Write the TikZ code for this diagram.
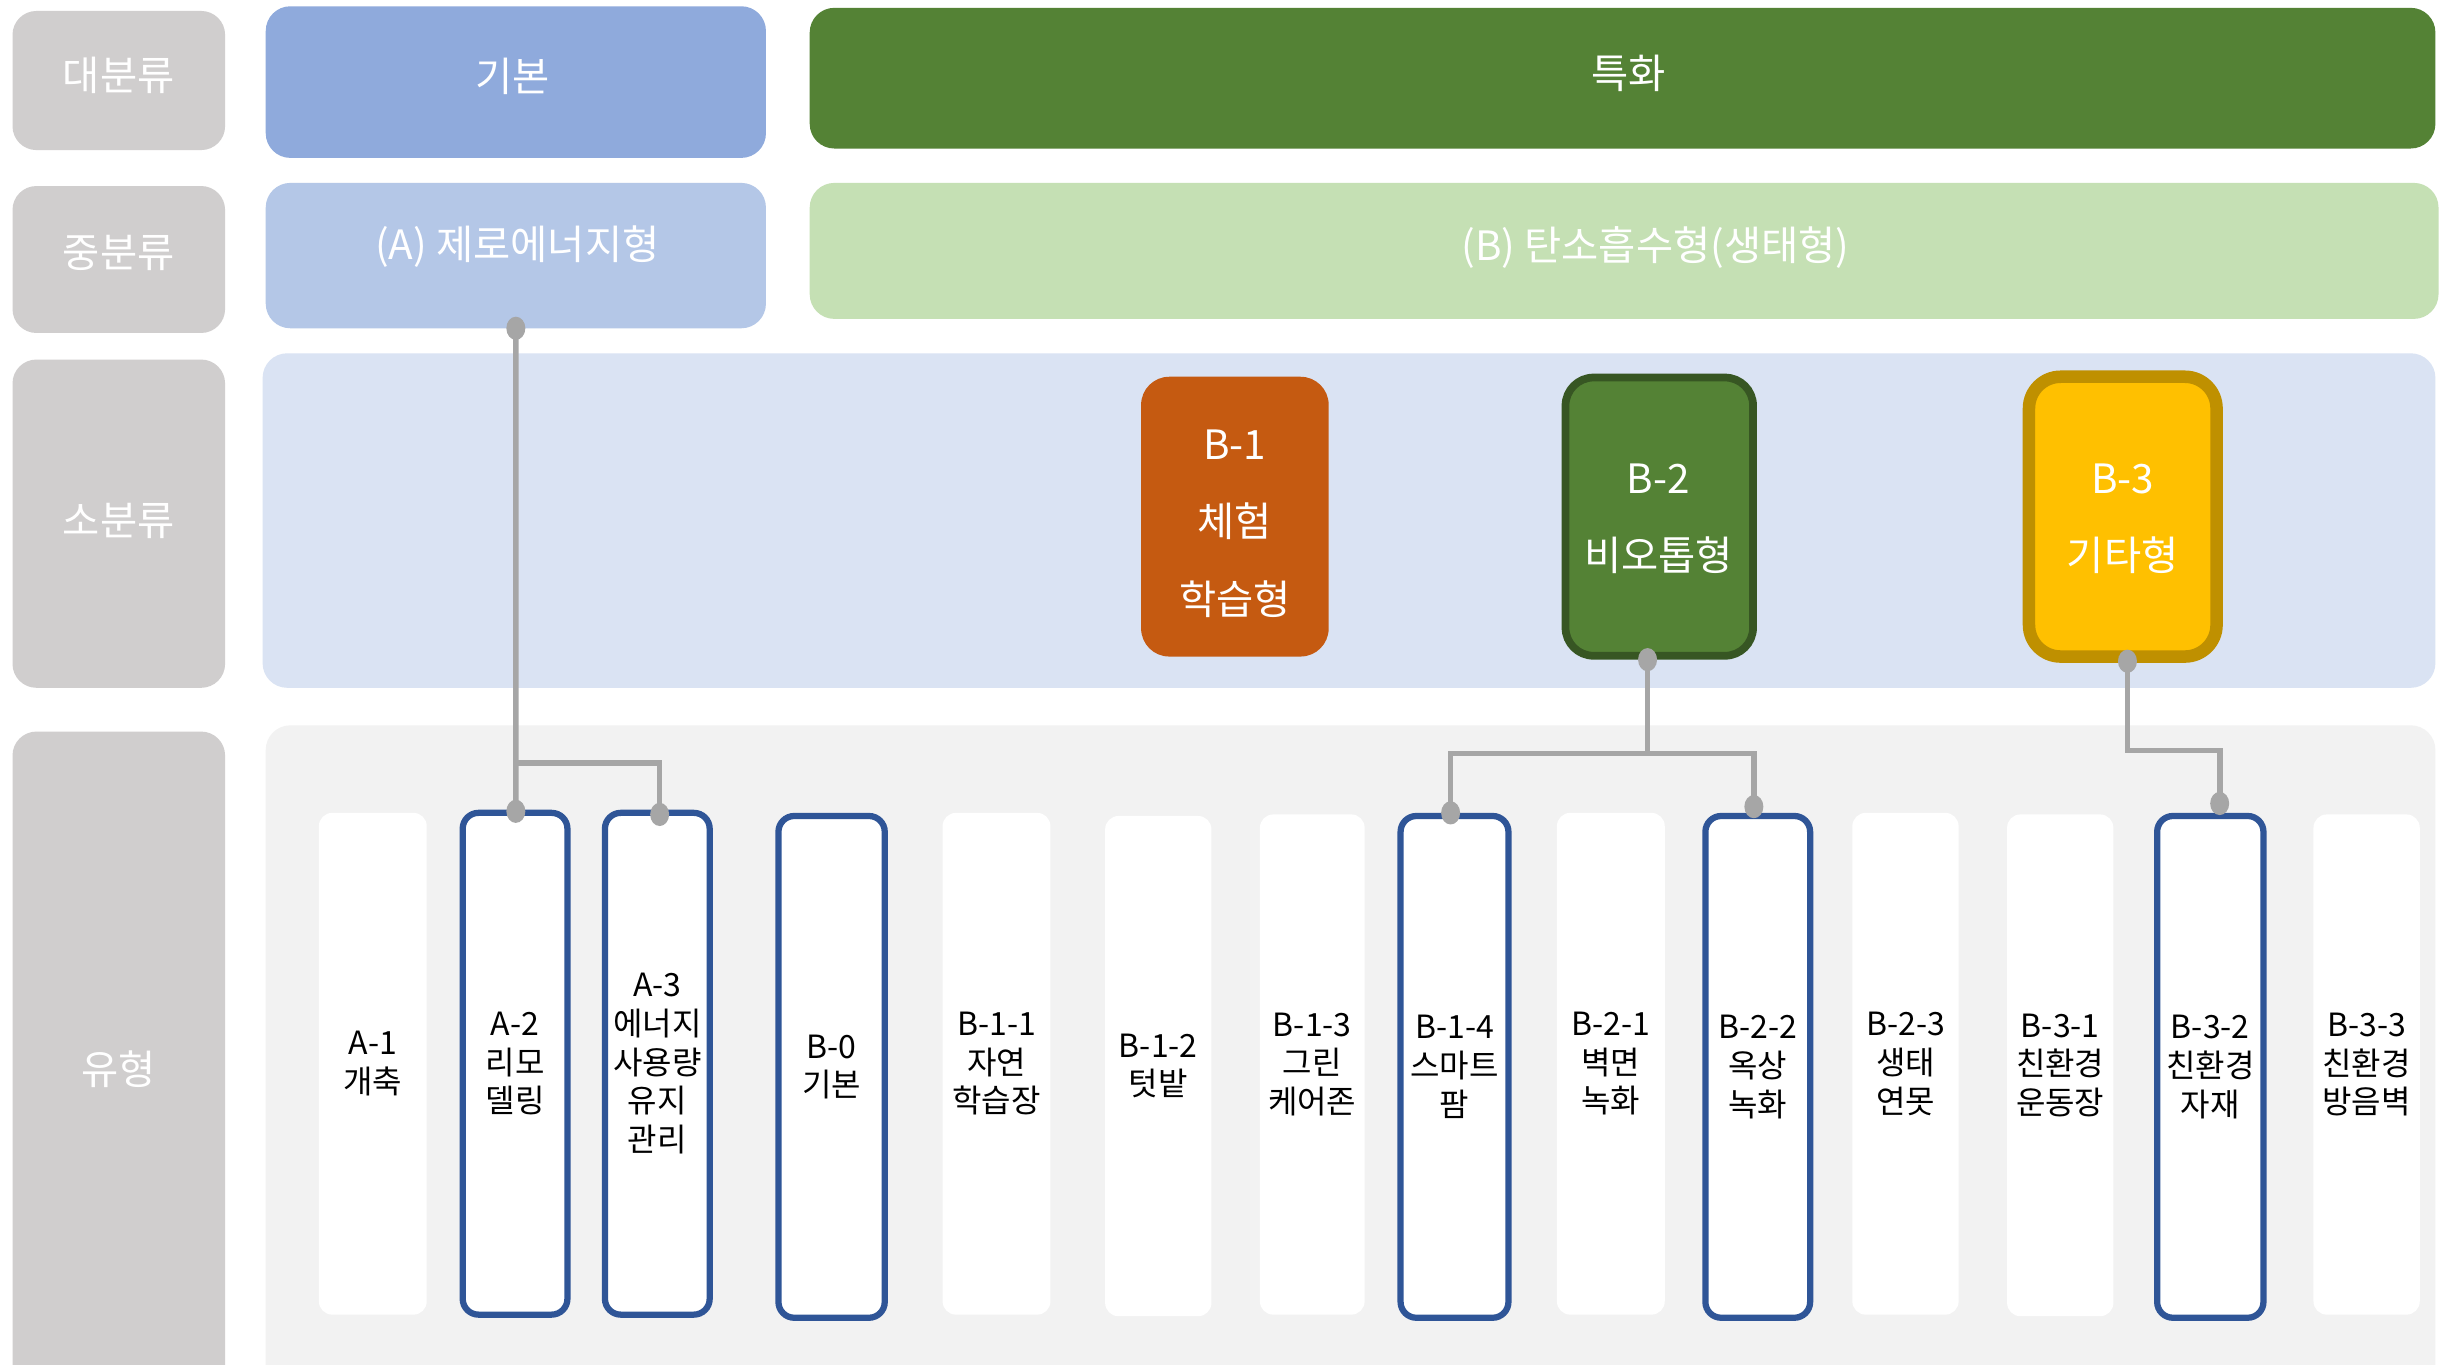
\documentclass[tikz,border=0pt]{standalone}
\usepackage{fontspec}
\setmainfont{Noto Sans CJK KR}
\usetikzlibrary{calc}
\definecolor{labgray}{HTML}{D0CECE}
\definecolor{basicblue}{HTML}{8FAADC}
\definecolor{ablue}{HTML}{B4C7E7}
\definecolor{spgreen}{HTML}{548235}
\definecolor{bgreen}{HTML}{C5E0B4}
\definecolor{smallband}{HTML}{DAE3F3}
\definecolor{typeband}{HTML}{F2F2F2}
\definecolor{borange}{HTML}{C55A11}
\definecolor{dkgreen}{HTML}{375623}
\definecolor{gold}{HTML}{FFC000}
\definecolor{dkgold}{HTML}{BF9000}
\definecolor{colblue}{HTML}{2F5597}
\definecolor{conngray}{HTML}{A6A6A6}
\newcommand\mkbox[7]{\node[#2,minimum width={(#5-#3)*0.015631cm},minimum height={(#6-#4)*0.015631cm}] (#1) at ({(#3+#5)/2},{(#4+#6)/2}) {#7};}
\begin{document}
\begin{tikzpicture}[x=0.015631cm,y=-0.015631cm,
  every node/.style={inner sep=0pt,outer sep=0pt},
  labbox/.style={fill=labgray,rounded corners=6.8pt},
  headbox/.style={rounded corners=7pt},
  headtxt/.style={text=white,font=\fontsize{11.5}{14}\selectfont},
  band/.style={rounded corners=7pt},
  smallbox/.style={rounded corners=8pt},
  smalltxt/.style={align=center,text=white,font=\fontsize{11.5}{22}\selectfont},
  colbox/.style={fill=white,rounded corners=3.8pt,align=center,font=\fontsize{9.1}{11}\selectfont},
  bluecol/.style={colbox,draw=colblue,line width=1.78pt,rounded corners=4.5pt},
  conn/.style={draw=conngray,line width=1.6pt},
  dotc/.style={fill=conngray}
]
\useasboundingbox (0,0) rectangle (1568,873);
\clip (0,0) rectangle (1568,873);
\fill[white] (0,0) rectangle (1568,873);
% left label column
\mkbox{L1}{labbox}{8}{7}{144}{96}{}
\mkbox{L2}{labbox}{8}{119}{144}{213}{}
\mkbox{L3}{labbox}{8}{230}{144}{440}{}
\mkbox{L4}{labbox}{8}{468}{144}{900}{}
\node[headtxt] (L1t) at ($(L1)+(0,-3)$) {대분류};
\node[headtxt] (L2t) at ($(L2)+(0,-4)$) {중분류};
\node[headtxt] (L3t) at ($(L3)+(0,-2)$) {소분류};
\node[headtxt] (L4t) at (76,684) {유형};
% header rows
\mkbox{K1}{headbox,fill=basicblue}{170}{4}{490}{101}{}
\mkbox{K2}{headbox,fill=spgreen}{518}{5}{1558}{95}{}
\mkbox{A}{headbox,fill=ablue}{170}{117}{490}{210}{}
\mkbox{B}{headbox,fill=bgreen}{518}{117}{1560}{204}{}
\node[headtxt] (K1t) at (328,49) {기본};
\node[headtxt] (K2t) at (1042,47) {특화};
\node[headtxt] (At) at (331,158) {(A) 제로에너지형};
\node[headtxt] (Bt) at (1059,158) {(B) 탄소흡수형(생태형)};
% bands
\mkbox{SB}{band,fill=smallband}{168}{226}{1558}{440}{}
\mkbox{TB}{band,fill=typeband}{170}{464}{1558}{900}{}
% small category boxes
\mkbox{B1}{smallbox,fill=borange}{730}{241}{850}{420}{}
\mkbox{B2}{smallbox,fill=spgreen,draw=dkgreen,line width=2.2pt}{1001.5}{241.5}{1121.5}{419.5}{}
\mkbox{B3}{smallbox,fill=gold,draw=dkgold,line width=3.56pt,rounded corners=9pt}{1298}{241}{1418}{420}{}
\node[smalltxt] (B1t) at (790,335) {B-1\\체험\\학습형};
\node[smalltxt] (B2t) at (1061,332) {B-2\\비오톱형};
\node[smalltxt] (B3t) at (1358,332) {B-3\\기타형};
% type columns
\mkbox{A1}{colbox}{204}{520}{273}{841}{A-1\\개축}
\mkbox{A2}{bluecol}{296}{520}{363}{841}{A-2\\리모\\델링}
\mkbox{A3}{bluecol}{387}{520}{454}{841}{A-3\\에너지\\사용량\\유지\\관리}
\mkbox{B0}{bluecol}{498}{522}{566}{843}{B-0\\기본}
\mkbox{B11}{colbox}{603}{520}{672}{841}{B-1-1\\자연\\학습장}
\mkbox{B12}{colbox}{707}{522}{775}{842}{B-1-2\\텃밭}
\mkbox{B13}{colbox}{806}{521}{873}{841}{B-1-3\\그린\\케어존}
\mkbox{B14}{bluecol}{896}{522}{965}{843}{B-1-4\\스마트\\팜}
\mkbox{B21}{colbox}{996}{520}{1065}{841}{B-2-1\\벽면\\녹화}
\mkbox{B22}{bluecol}{1091}{522}{1158}{843}{B-2-2\\옥상\\녹화}
\mkbox{B23}{colbox}{1185}{520}{1253}{841}{B-2-3\\생태\\연못}
\mkbox{B31}{colbox}{1284}{521}{1352}{842}{B-3-1\\친환경\\운동장}
\mkbox{B32}{bluecol}{1380}{522}{1448}{843}{B-3-2\\친환경\\자재}
\mkbox{B33}{colbox}{1480}{521}{1548}{841}{B-3-3\\친환경\\방음벽}
% connector points
\coordinate (aS) at (A.south);
\coordinate (ja) at (330,488);
\coordinate (a2t) at ($(A2.north)+(0.5,-1)$);
\coordinate (a3t) at (422,521);
\coordinate (b2S) at (1054,422);
\coordinate (jb) at (1054,482);
\coordinate (b14t) at (928,520);
\coordinate (b22t) at (1122,516);
\coordinate (b3S) at (1361,423);
\coordinate (jc) at (1361,480);
\coordinate (b32t) at (1420,514);
% connectors
\draw[conn] (aS) -- (a2t);
\draw[conn] (ja) -| (a3t);
\draw[conn] (b2S) -- (jb);
\draw[conn] (b14t) |- (jb) -| (b22t);
\draw[conn] (b3S) -- (jc) -| (b32t);
% dots
\foreach \p in {aS,a2t,a3t,b2S,b14t,b22t,b3S,b32t}
  \fill[dotc] (\p) ellipse [x radius=2.7pt, y radius=3.3pt];
\end{tikzpicture}
\end{document}
